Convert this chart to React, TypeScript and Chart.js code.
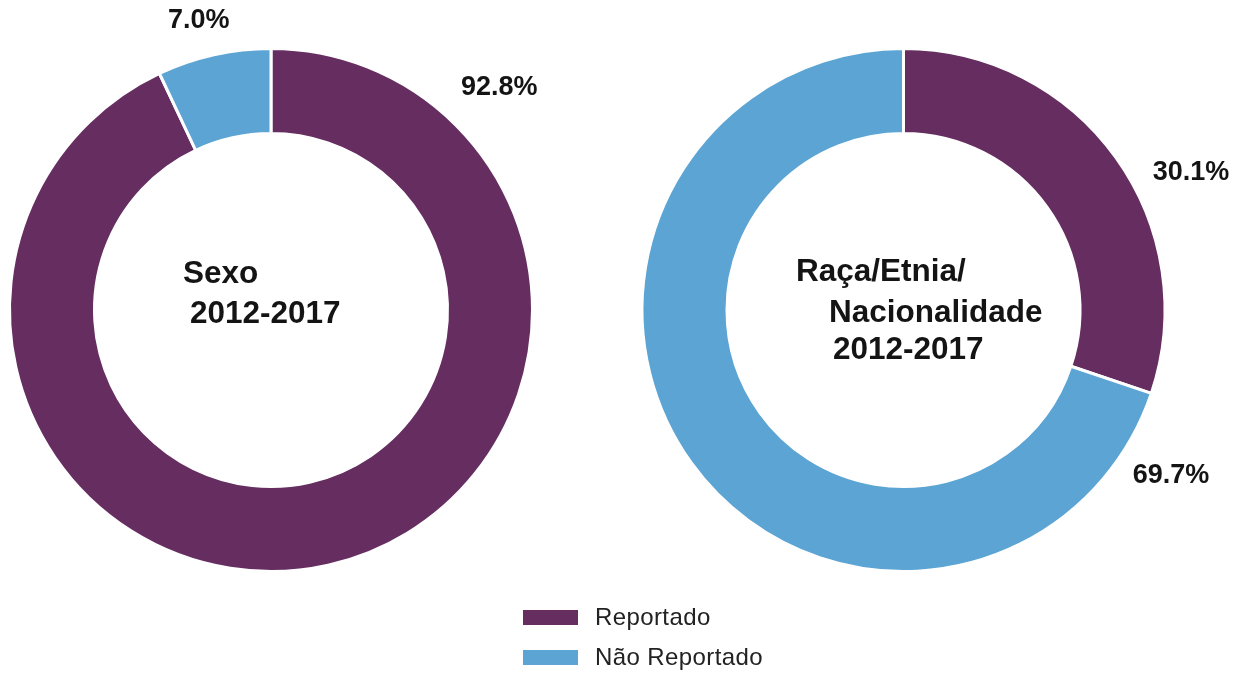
import React, { useEffect, useRef } from "react";
import { Chart, registerables } from "chart.js";

Chart.register(...registerables);

// ---- data ----
const categories = ["Reportado", "Não Reportado"];
const sexoValues = [92.8, 7.0];
const racaValues = [30.1, 69.7];
const sexoValueLabels = ["92.8%", "7.0%"];
const racaValueLabels = ["30.1%", "69.7%"];
const sexoTitle = ["Sexo", "2012-2017"];
const racaTitle = ["Raça/Etnia/", "Nacionalidade", "2012-2017"];

// ---- styles / placement ----
const colors = ["#662d61", "#5ba4d4"];
const FONT = '"Liberation Sans", Arial, Helvetica, sans-serif';
const textColor = "#141414";

// label placement: angle (deg, 0 = 3 o'clock, clockwise) and gap beyond outer radius
const sexoLabelPlace = [
  { angle: -44.2, gap: 57 },
  { angle: -104, gap: 37 },
];
const racaLabelPlace = [
  { angle: -25.5, gap: 57 },
  { angle: 31.7, gap: 53 },
];
// title lines: left edge dx and vertical middle dy relative to doughnut centre
const sexoTitlePlace = [
  { dx: -88, dy: -36 },
  { dx: -81, dy: 4 },
];
const racaTitlePlace = [
  { dx: -107.5, dy: -37.5 },
  { dx: -74.5, dy: 3.5 },
  { dx: -70.5, dy: 40.5 },
];

type Place = { angle: number; gap: number };
type TPlace = { dx: number; dy: number };

function makeTextPlugin(
  id: string,
  valueLabels: string[],
  labelPlace: Place[],
  title: string[],
  titlePlace: TPlace[]
) {
  return {
    id,
    afterDraw(chart: any) {
      const meta = chart.getDatasetMeta(0);
      const arc = meta.data[0];
      if (!arc) return;
      const cx = arc.x;
      const cy = arc.y;
      const R = arc.outerRadius;
      const ctx = chart.ctx as CanvasRenderingContext2D;
      ctx.save();
      ctx.fillStyle = textColor;
      ctx.textBaseline = "middle";
      ctx.textAlign = "center";
      ctx.font = `bold 27px ${FONT}`;
      valueLabels.forEach((t, i) => {
        const p = labelPlace[i];
        const a = (p.angle * Math.PI) / 180;
        const d = R + p.gap;
        ctx.fillText(t, cx + Math.cos(a) * d, cy + Math.sin(a) * d);
      });
      ctx.textAlign = "left";
      ctx.font = `bold 31.5px ${FONT}`;
      title.forEach((t, i) => {
        const p = titlePlace[i];
        ctx.fillText(t, cx + p.dx, cy + p.dy);
      });
      ctx.restore();
    },
  };
}

function Doughnut(props: {
  values: number[];
  valueLabels: string[];
  labelPlace: Place[];
  title: string[];
  titlePlace: TPlace[];
  left: number;
  width: number;
  padRight: number;
  id: string;
}) {
  const ref = useRef<HTMLCanvasElement | null>(null);
  useEffect(() => {
    if (!ref.current) return;
    const chart = new Chart(ref.current, {
      type: "doughnut",
      data: {
        labels: categories,
        datasets: [
          {
            data: props.values,
            backgroundColor: colors,
            borderColor: "#ffffff",
            borderWidth: 3,
          },
        ],
      },
      options: {
        animation: false,
        responsive: false,
        maintainAspectRatio: false,
        radius: 261.5,
        cutout: "67.5%",
        layout: { padding: { left: 0, right: props.padRight, top: 0, bottom: 20 } },
        plugins: {
          legend: { display: false },
          tooltip: { enabled: false },
        },
      },
      plugins: [
        makeTextPlugin(
          props.id,
          props.valueLabels,
          props.labelPlace,
          props.title,
          props.titlePlace
        ),
      ],
    } as any);
    return () => chart.destroy();
  }, []);
  return (
    <canvas
      ref={ref}
      width={props.width}
      height={640}
      style={{
        position: "absolute",
        left: props.left,
        top: 0,
        width: props.width,
        height: 640,
      }}
    />
  );
}

export default function App() {
  const legendItems = categories.map((c, i) => (
    <div
      key={c}
      style={{
        position: "absolute",
        left: 523,
        top: 602 + i * 40,
        height: 30,
        display: "flex",
        alignItems: "center",
      }}
    >
      <div
        style={{
          width: 55,
          height: 15,
          background: colors[i],
          marginRight: 17,
        }}
      />
      <span
        style={{
          fontFamily: FONT,
          fontSize: 24,
          letterSpacing: "0.4px",
          color: "#222",
          whiteSpace: "nowrap",
          lineHeight: "30px",
        }}
      >
        {c}
      </span>
    </div>
  ));
  return (
    <div
      style={{
        position: "absolute",
        left: 0,
        top: 0,
        width: 1233,
        height: 673,
        background: "#ffffff",
        overflow: "hidden",
      }}
    >
      <Doughnut
        id="sexoText"
        values={sexoValues}
        valueLabels={sexoValueLabels}
        labelPlace={sexoLabelPlace}
        title={sexoTitle}
        titlePlace={sexoTitlePlace}
        left={0}
        width={587}
        padRight={45}
      />
      <Doughnut
        id="racaText"
        values={racaValues}
        valueLabels={racaValueLabels}
        labelPlace={racaLabelPlace}
        title={racaTitle}
        titlePlace={racaTitlePlace}
        left={587}
        width={646}
        padRight={13}
      />
      {legendItems}
    </div>
  );
}
